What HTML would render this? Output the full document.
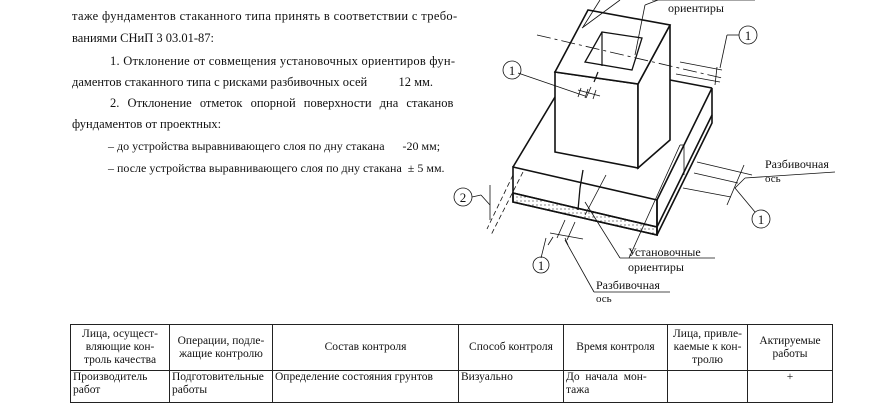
<!DOCTYPE html>
<html><head><meta charset="utf-8"><style>
body{margin:0;width:870px;height:400px;background:#fff;overflow:hidden;position:relative;font-family:"Liberation Serif","Noto Serif CJK SC",serif;color:#111}
.t{position:absolute;font-size:12.5px;white-space:nowrap}
table{position:absolute;left:70px;top:324px;border-collapse:collapse;font-size:11.5px;font-family:"Liberation Serif",serif;table-layout:fixed;width:762px}
td{border:1px solid #222;padding:0 2px;vertical-align:middle;line-height:13px;overflow:hidden}
</style></head><body>
<div class="t" style="left:72px;top:9px;letter-spacing:0.35px">таже фундаментов стаканного типа принять в соответствии с требо-</div>
<div class="t" style="left:72px;top:31px">ваниями СНиП 3 03.01-87:</div>
<div class="t" style="left:110px;top:54px;letter-spacing:0.25px">1. Отклонение от совмещения установочных ориентиров фун-</div>
<div class="t" style="left:72px;top:75px">даментов стаканного типа с рисками разбивочных осей&nbsp;&nbsp;&nbsp;&nbsp;&nbsp;&nbsp;&nbsp;&nbsp;&nbsp;&nbsp;12 мм.</div>
<div class="t" style="left:110px;top:96px;word-spacing:5px">2. Отклонение отметок опорной поверхности дна стаканов</div>
<div class="t" style="left:72px;top:117px">фундаментов от проектных:</div>
<div class="t" style="left:108px;top:139px;font-size:12px">– до устройства выравнивающего слоя по дну стакана&nbsp;&nbsp;&nbsp;&nbsp;&nbsp;&nbsp;-20 мм;</div>
<div class="t" style="left:108px;top:161px;font-size:12px">– после устройства выравнивающего слоя по дну стакана&nbsp;&nbsp;± 5 мм.</div>

<svg width="870" height="320" style="position:absolute;left:0;top:0" font-family="Liberation Serif, serif" font-size="12">
<defs><pattern id="d" width="4" height="4" patternUnits="userSpaceOnUse"><circle cx="1" cy="1" r="0.6" fill="#333"/></pattern></defs>
<g stroke="#111" fill="none" stroke-width="1.6">
<polygon points="513,193 657,227 657,235 513,202" fill="url(#d)"/>
<polygon points="513,167 657,200 657,235 513,202"/>
<polygon points="657,200 712,88 712,123 657,235"/>
<line x1="657" y1="227" x2="712" y2="115"/>
<line x1="513" y1="193" x2="657" y2="227"/>
<line x1="513" y1="167" x2="555" y2="97"/>
<line x1="670" y1="80" x2="712" y2="88"/>
<polygon points="555,72 638,84 638,168 555,152" fill="#fff"/>
<polygon points="638,84 670,25 670,140 638,168" fill="#fff"/>
<polygon points="555,72 588,10 670,25 638,84" fill="#fff"/>
<polygon points="602,32 642,38 632,70 585,62" stroke-width="1.3"/>
<line x1="602" y1="32" x2="602" y2="66" stroke-width="1.2"/>
</g>
<g stroke="#111" fill="none" stroke-width="0.8">
<line x1="537" y1="35" x2="722" y2="78" stroke-dasharray="14,4,3,4"/>
<line x1="680" y1="62" x2="722" y2="70"/>
<line x1="676" y1="74" x2="720" y2="82"/>
<line x1="717" y1="67" x2="715" y2="85"/>
<line x1="720" y1="68" x2="727" y2="35"/><line x1="727" y1="35" x2="739" y2="35"/>
<circle cx="748" cy="35" r="9"/>
<line x1="598" y1="72" x2="594" y2="82" stroke-width="1.2"/>
<line x1="591" y1="87" x2="586" y2="98"/>
<line x1="518" y1="73" x2="585" y2="96"/>
<line x1="578" y1="90" x2="600" y2="96"/>
<line x1="581" y1="88" x2="578" y2="97"/><line x1="588" y1="89" x2="585" y2="98"/><line x1="596" y1="90" x2="593" y2="99"/>
<circle cx="512" cy="70" r="9"/>
<line x1="583" y1="27" x2="600" y2="0"/><line x1="582" y1="28" x2="620" y2="0"/>
<line x1="635" y1="55" x2="645" y2="5"/><line x1="645" y1="5" x2="658" y2="0"/>
<line x1="652" y1="0" x2="755" y2="0"/>
<line x1="583" y1="170" x2="580" y2="188" stroke-width="1.3"/>
<line x1="580" y1="188" x2="578" y2="210" stroke-width="1.3"/>
<line x1="606" y1="175" x2="585" y2="215"/>
<line x1="565" y1="220" x2="557" y2="238"/>
<line x1="575" y1="222" x2="567" y2="240"/>
<line x1="550" y1="233" x2="583" y2="239"/>
<line x1="553" y1="237" x2="548" y2="245"/><line x1="565" y1="238" x2="568" y2="245"/>
<line x1="546" y1="238" x2="541" y2="258"/><circle cx="541" cy="265" r="8"/>
<line x1="565" y1="240" x2="594" y2="292"/><line x1="594" y1="292" x2="670" y2="292"/>
<line x1="585" y1="202" x2="620" y2="258"/><line x1="620" y1="258" x2="715" y2="258"/>
<line x1="680" y1="145" x2="629" y2="258"/><line x1="680" y1="145" x2="684" y2="145"/>
<line x1="684" y1="145" x2="684" y2="175"/>
<line x1="697" y1="162" x2="752" y2="175"/>
<line x1="694" y1="173" x2="738" y2="183"/>
<line x1="683" y1="188" x2="731" y2="197"/>
<line x1="744" y1="165" x2="727" y2="205"/>
<line x1="735" y1="188" x2="745" y2="178"/><line x1="745" y1="178" x2="835" y2="172"/>
<line x1="735" y1="188" x2="755" y2="212"/><circle cx="761" cy="219" r="9"/>
<line x1="513" y1="175" x2="487" y2="229" stroke-dasharray="5,3"/>
<line x1="523" y1="172" x2="491" y2="235" stroke-dasharray="5,3"/>
<line x1="490" y1="185" x2="490" y2="220"/>
<line x1="490" y1="205" x2="481" y2="195"/><circle cx="463" cy="197" r="9"/><line x1="472" y1="197" x2="481" y2="195"/>
</g>
<g fill="#111" stroke="none">
<text x="596" y="289">Разбивочная</text><text x="596" y="302" font-size="11">ось</text>
<text x="628" y="256">Установочные</text><text x="628" y="271">ориентиры</text>
<text x="765" y="168">Разбивочная</text><text x="765" y="182" font-size="11">ось</text>
<text x="668" y="12">ориентиры</text>
</g>
<g font-size="13" text-anchor="middle" fill="#111">
<text x="748" y="40">1</text><text x="512" y="75">1</text><text x="541" y="270">1</text><text x="761" y="224">1</text><text x="463" y="202">2</text>
</g>
</svg>

<table>
<colgroup><col style="width:99px"><col style="width:103px"><col style="width:186px"><col style="width:105px"><col style="width:104px"><col style="width:80px"><col style="width:85px"></colgroup>
<tr style="height:46px;text-align:center"><td>Лица, осущест-<br>вляющие кон-<br>троль качества</td><td>Операции, подле-<br>жащие контролю</td><td>Состав контроля</td><td>Способ контроля</td><td>Время контроля</td><td>Лица, привле-<br>каемые к кон-<br>тролю</td><td>Актируемые<br>работы</td></tr>
<tr style="height:32px"><td style="vertical-align:top">Производитель<br>работ</td><td style="vertical-align:top;white-space:nowrap">Подготовительные<br>работы</td><td style="vertical-align:top">Определение состояния грунтов</td><td style="vertical-align:top">Визуально</td><td style="vertical-align:top">До&nbsp;&nbsp;начала&nbsp;&nbsp;мон-<br>тажа</td><td></td><td style="text-align:center;vertical-align:top">+</td></tr>
</table>
</body></html>
